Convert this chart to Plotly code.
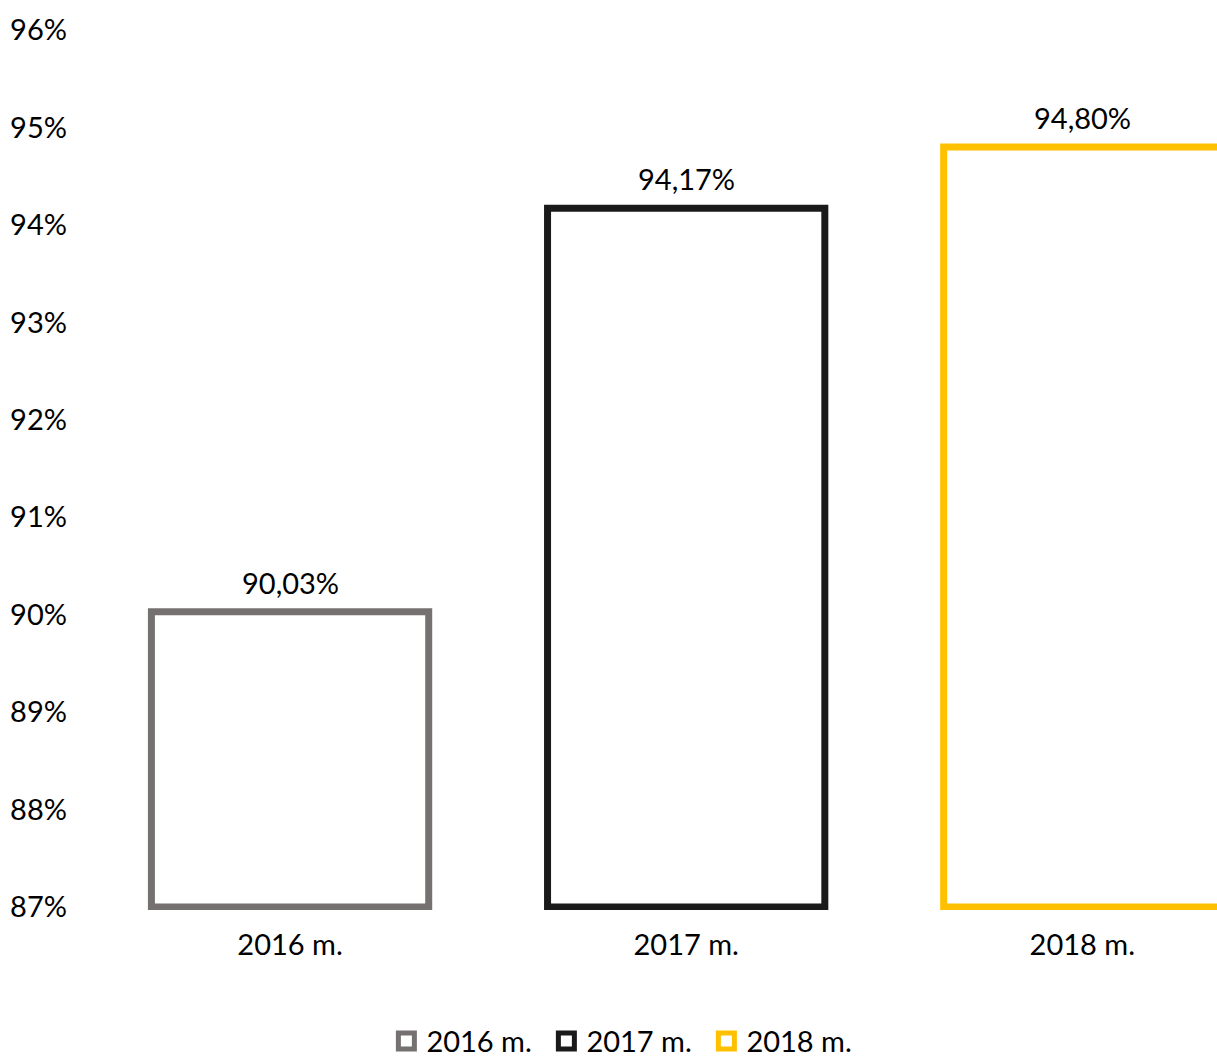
import plotly.graph_objects as go

categories = ["2016 m.", "2017 m.", "2018 m."]
values = [90.03, 94.17, 94.80]
colors = ["#767171", "#1A1A1A", "#FFC000"]
baseline = 87
tick_vals = list(range(87, 97))
tick_text = [f"{v}%" for v in tick_vals]

font_family = "Lato, 'Open Sans', sans-serif"
fs = 29

fig = go.Figure()
for cat, val, col in zip(categories, values, colors):
    fig.add_trace(go.Bar(
        x=[cat], y=[val - baseline], base=[baseline],
        name=cat, showlegend=False,
        width=0.7,
        marker=dict(color="white", line=dict(color=col, width=7)),
        hoverinfo="skip",
    ))
    fig.add_annotation(
        x=cat, y=val, yref="y", xref="x",
        text=f"{val:.2f}%".replace(".", ","),
        showarrow=False, yanchor="bottom", yshift=10,
        font=dict(size=fs, color="#000000", family=font_family),
    )
# legend entries
for cat, col in zip(categories, colors):
    fig.add_trace(go.Scatter(
        x=[None], y=[None], mode="markers", name=cat,
        marker=dict(symbol="square", size=17, color="white", line=dict(color=col, width=6)),
    ))

fig.update_layout(
    width=1217, height=1061,
    margin=dict(l=92, r=0, t=30, b=151, autoexpand=False),
    paper_bgcolor="white", plot_bgcolor="white",
    barmode="overlay",
    font=dict(family=font_family, size=fs, color="#000000"),
    showlegend=True,
    legend=dict(orientation="h", x=0.475, xanchor="center", y=-0.149, yanchor="middle",
                font=dict(size=fs), itemwidth=30, entrywidth=115, traceorder="normal"),
    xaxis=dict(range=[-0.5, 2.34], showgrid=False, showline=False, zeroline=False,
               ticks="", ticklabelstandoff=15, fixedrange=True),
    yaxis=dict(range=[86.97, 96], tickvals=tick_vals, ticktext=tick_text,
               showgrid=False, showline=False, zeroline=False, ticks="",
               ticklabelstandoff=24, fixedrange=True),
)

fig.write_html("out.html", config={"displayModeBar": False},
               post_script="document.body.style.margin='0';")
